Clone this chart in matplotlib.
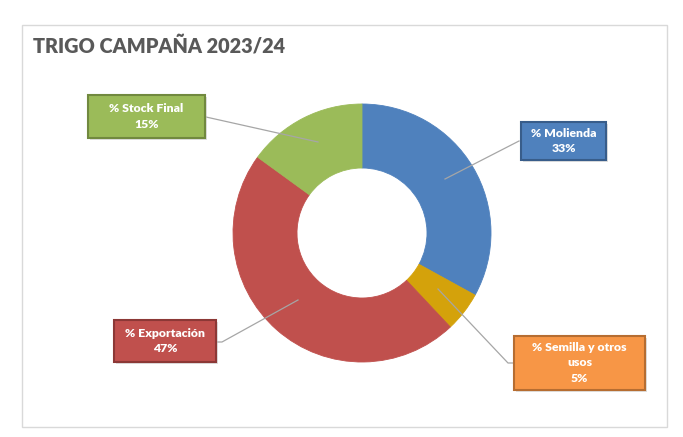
import matplotlib.pyplot as plt
from matplotlib.patches import Rectangle

# data
labels = ["% Molienda", "% Semilla y otros\nusos", "% Exportación", "% Stock Final"]
values = [33, 5, 47, 15]
colors = ["#4F81BD", "#D4A20B", "#C0504D", "#9BBB59"]
box_colors = ["#4F81BD", "#F79646", "#C0504D", "#9BBB59"]
edge_colors = ["#385D8A", "#B66D31", "#8C3836", "#71893F"]

W, H = 683, 437
fig = plt.figure(figsize=(W / 100, H / 100), dpi=100)
ax = fig.add_axes([0, 0, 1, 1])

cx, cy, R = 362, H - 233, 129
wedges, _ = ax.pie(values, colors=colors, startangle=90, counterclock=False,
                   center=(cx, cy), radius=R,
                   wedgeprops=dict(width=64, linewidth=0.6))
for w in wedges:
    w.set_edgecolor(w.get_facecolor())

ax.set_xlim(0, W)
ax.set_ylim(0, H)
ax.set_aspect("equal")
ax.axis("off")

# chart frame
ax.add_patch(Rectangle((22, H - 427), 645, 402, fill=False,
                       edgecolor="#D9D9D9", linewidth=1))

ax.text(33, H - 46, "TRIGO CAMPAÑA 2023/24", fontsize=14.3, fontweight="heavy",
        color="#595959", family="Lato", va="center", ha="left")

# label boxes (x0, y0 top, width, height) in pixels and leader lines
boxes = [(521, 122, 85, 38), (514, 336, 131, 54), (114, 320, 102, 42), (88, 95, 117, 43)]
leaders = [
    [(445, 179), (519, 141)],
    [(438, 289), (508, 363), (514, 363)],
    [(298, 300), (222, 342), (216, 342)],
    [(318, 142), (206, 117)],
]

for i, (x0, y0, bw, bh) in enumerate(boxes):
    ax.add_patch(Rectangle((x0 + 2, H - y0 - bh - 2), bw, bh,
                           facecolor="#BFBFBF", edgecolor="none", alpha=0.5, zorder=3))
    ax.add_patch(Rectangle((x0, H - y0 - bh), bw, bh, facecolor=box_colors[i],
                           edgecolor=edge_colors[i], linewidth=1.5, zorder=4))
    ax.text(x0 + bw / 2, H - y0 - bh / 2, labels[i] + "\n" + str(values[i]) + "%",
            ha="center", va="center", color="white", fontsize=8.8, fontweight="heavy",
            family="Lato", linespacing=1.5, zorder=5)
    xs = [p[0] for p in leaders[i]]
    ys = [H - p[1] for p in leaders[i]]
    ax.plot(xs, ys, color="#A6A6A6", linewidth=0.9, zorder=2)

fig.savefig("out.png", dpi=100)
